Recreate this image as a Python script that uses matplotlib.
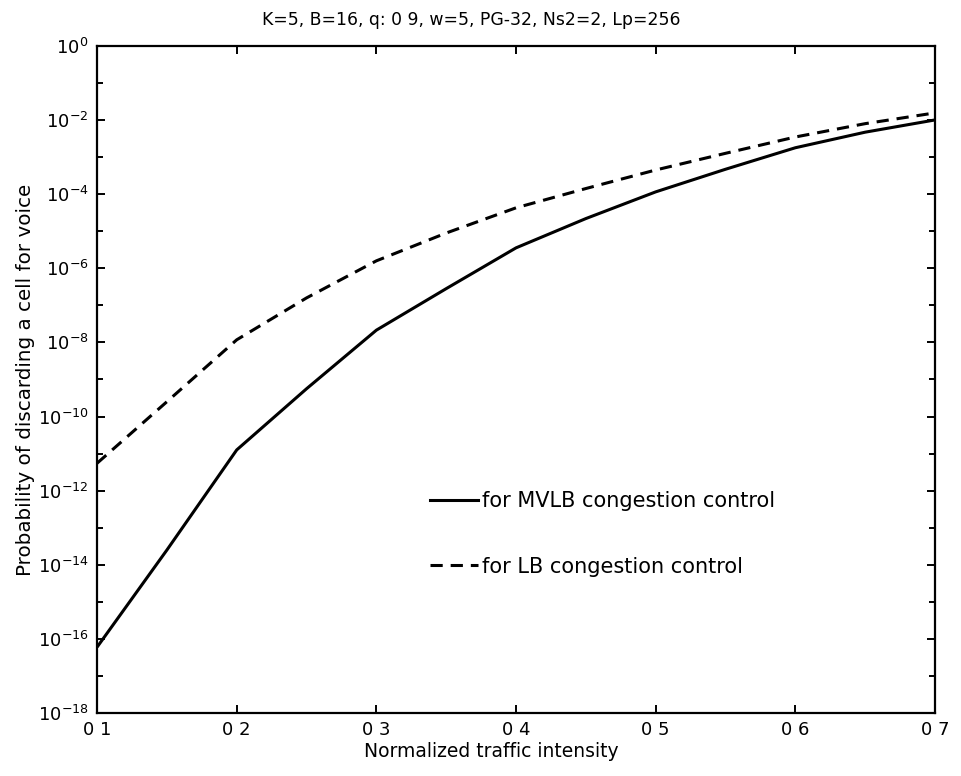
#!/usr/bin/env python3

"""
plot.py  -- voice cell discard probability vs. traffic intensity
"""

import matplotlib
matplotlib.use("Agg")
import matplotlib.pyplot as plt
from matplotlib.ticker import FixedLocator, NullFormatter, LogFormatterMathtext
from matplotlib.lines import Line2D

# normalized traffic intensity
load = [0.1, 0.15, 0.2, 0.25, 0.3, 0.35, 0.4, 0.45, 0.5, 0.55, 0.6, 0.65, 0.7]

# log10 of discard probability
log_mvlb = [-16.22, -13.6, -10.9, -9.25, -7.67, -6.55, -5.45, -4.66, -3.94,
            -3.33, -2.75, -2.33, -2.0]
log_lb = [-11.26, -9.6, -7.93, -6.8, -5.8, -5.05, -4.37, -3.85, -3.35,
          -2.9, -2.46, -2.1, -1.81]

xtick_vals = [0.1, 0.2, 0.3, 0.4, 0.5, 0.6, 0.7]
xtick_labels = ["0 1", "0 2", "0 3", "0 4", "0 5", "0 6", "0 7"]

plt.rcParams['font.family'] = ['DejaVu Sans']

fig = plt.figure(figsize=(9.61, 7.76), dpi=100)
ax = fig.add_axes([0.101, 0.081, 0.872, 0.860])

p_mvlb = [10 ** v for v in log_mvlb]
p_lb = [10 ** v for v in log_lb]

dash = (4.0, 2.6)
ax.plot(load, p_mvlb, color="black", lw=2.2, solid_capstyle="butt")
ax.plot(load, p_lb, color="black", lw=2.2, dashes=dash)

ax.set_yscale("log")
ax.set_xlim(0.1, 0.7)
ax.set_ylim(1e-18, 1)

ax.set_xticks(xtick_vals)
ax.set_xticklabels(xtick_labels)

ax.yaxis.set_major_locator(FixedLocator([10.0 ** -k for k in range(0, 19, 2)]))
ax.yaxis.set_major_formatter(LogFormatterMathtext())
ax.yaxis.set_minor_locator(FixedLocator([10.0 ** -k for k in range(1, 18, 2)]))
ax.yaxis.set_minor_formatter(NullFormatter())

ax.tick_params(which="both", direction="in", top=True, right=True, width=1.4)
ax.tick_params(which="major", length=6, labelsize=13, pad=6)
ax.tick_params(which="minor", length=4)

for s in ax.spines.values():
    s.set_linewidth(1.6)

ax.set_xlabel("Normalized traffic intensity", fontsize=13.5, labelpad=2, x=0.471)
ax.set_ylabel("Probability of discarding a cell for voice", fontsize=14.3, labelpad=2)
ax.set_title("K=5, B=16, q: 0 9, w=5, PG-32, Ns2=2, Lp=256", fontsize=12.4,
             pad=15, x=0.446)

# legend sits inside the axes, no frame
handles = [Line2D([], [], color="black", lw=2.2),
           Line2D([], [], color="black", lw=2.2, dashes=dash)]
ax.legend(handles, ["for MVLB congestion control", "for LB congestion control"],
          loc="upper left", bbox_to_anchor=(0.397, 0.333), frameon=False,
          fontsize=15, handlelength=2.3, handletextpad=0.2,
          labelspacing=2.2, borderpad=0, borderaxespad=0)

fig.savefig("out.png", dpi=100)
plt.close(fig)
